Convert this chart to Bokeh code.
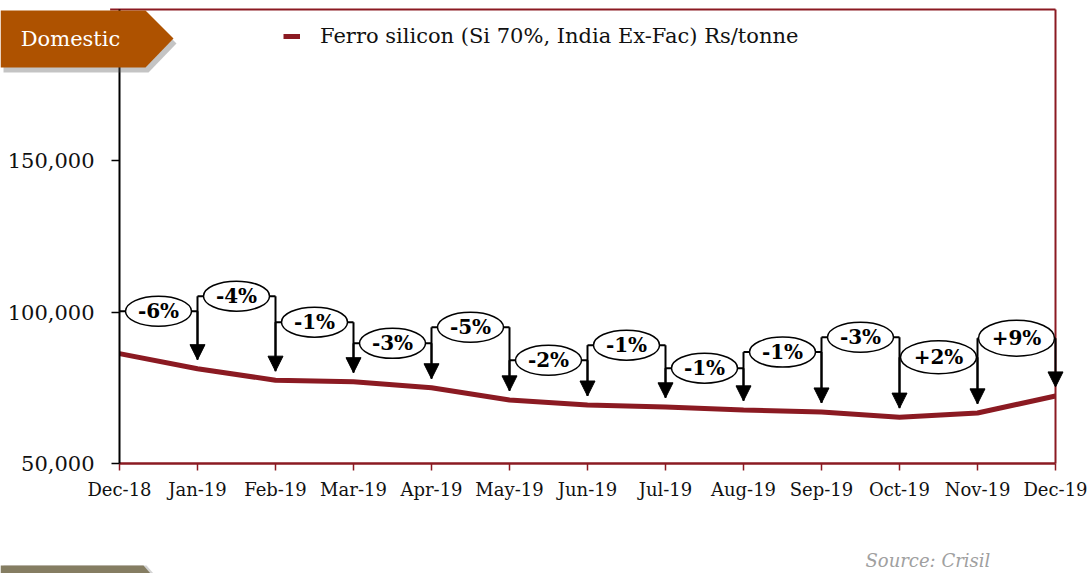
from bokeh.plotting import figure
from bokeh.models import (Range1d, FixedTicker, NumeralTickFormatter, Arrow, NormalHead,
                          PolyAnnotation, Label, Legend, LegendItem, ColumnDataSource)
from bokeh.core.properties import value
from bokeh.embed import file_html
from bokeh.resources import INLINE

# ---------------- data ----------------
months = ["Dec-18", "Jan-19", "Feb-19", "Mar-19", "Apr-19", "May-19", "Jun-19",
          "Jul-19", "Aug-19", "Sep-19", "Oct-19", "Nov-19", "Dec-19"]
prices = [86300, 81300, 77500, 77000, 75000, 71000, 69300,
          68700, 67700, 67000, 65300, 66700, 72300]
changes = ["-6%", "-4%", "-1%", "-3%", "-5%", "-2%", "-1%",
           "-1%", "-1%", "-3%", "+2%", "+9%"]
series_name = "Ferro silicon (Si 70%, India Ex-Fac) Rs/tonne"
y_ticks = [50000, 100000, 150000]
y_min, y_max = 50000, 200000

# ---------------- callout layout (positions / sizes) ----------------
callout_y = [100300, 105300, 96700, 89700, 95000, 84100, 89100,
             81500, 86800, 91700, 85100, 91400]
callout_w = [66, 66, 66, 66, 66, 66, 66, 66, 66, 66, 76, 76]
callout_h = [30, 30, 30, 30, 30, 30, 30, 30, 30, 30, 33, 36]
arrow_gap = 3000

RED = "#8B1A22"
SERIF = "DejaVu Serif"

# ---------------- canvas layout (pixels) ----------------
W, H = 1089, 573
plot_left, plot_right, plot_top, plot_bottom = 119, 1055, 9, 463
n_x = len(months) - 1
px_x = (plot_right - plot_left) / n_x
px_y = (plot_bottom - plot_top) / (y_max - y_min)
x_range = Range1d(-plot_left / px_x, n_x + (W - plot_right) / px_x)
y_range = Range1d(y_min - (H - plot_bottom) / px_y, y_max + plot_top / px_y)

x_idx = list(range(len(months)))

p = figure(width=W, height=H, x_range=x_range, y_range=y_range,
           output_backend="svg", toolbar_location=None,
           min_border=0, min_border_left=0, min_border_right=0,
           min_border_top=0, min_border_bottom=0)
p.grid.visible = False
p.outline_line_color = None
p.background_fill_color = "white"
p.border_fill_color = "white"

# x axis (fixed inside the canvas)
p.xaxis.fixed_location = y_min
p.xaxis.bounds = (0, n_x)
p.xaxis.ticker = FixedTicker(ticks=x_idx)
p.xaxis.major_label_overrides = {i: m for i, m in enumerate(months)}
p.xaxis.axis_line_color = RED
p.xaxis.axis_line_width = 2.5
p.xaxis.major_tick_line_color = RED
p.xaxis.major_tick_line_width = 1.5
p.xaxis.major_tick_out = 7
p.xaxis.major_tick_in = 0
p.xaxis.minor_tick_line_color = None
p.xaxis.major_label_standoff = 8
p.xaxis.major_label_text_font = SERIF
p.xaxis.major_label_text_font_size = "18px"
p.xaxis.major_label_text_color = "#111111"

# y axis (fixed inside the canvas)
p.yaxis.fixed_location = 0
p.yaxis.bounds = (y_min, y_max)
p.yaxis.ticker = FixedTicker(ticks=y_ticks)
p.yaxis.formatter = NumeralTickFormatter(format="0,0")
p.yaxis.axis_line_color = "black"
p.yaxis.axis_line_width = 2
p.yaxis.major_tick_line_color = "black"
p.yaxis.major_tick_line_width = 1.5
p.yaxis.major_tick_out = 8
p.yaxis.major_tick_in = 0
p.yaxis.minor_tick_line_color = None
p.yaxis.major_label_standoff = 17
p.yaxis.major_label_text_font = SERIF
p.yaxis.major_label_text_font_size = "21px"
p.yaxis.major_label_text_color = "#111111"

# top and right frame lines
p.segment(x0=[-0.12, n_x], y0=[y_max, y_min], x1=[n_x, n_x], y1=[y_max, y_max],
          line_color=RED, line_width=2)

# price line
line = p.line(x_idx, prices, line_color=RED, line_width=5)

# callouts
n = len(changes)
seg_src = ColumnDataSource(dict(
    x0=[i for i in range(n)], x1=[i + 1 for i in range(n)],
    y=callout_y))
p.segment(x0="x0", y0="y", x1="x1", y1="y", source=seg_src, line_color="black", line_width=2)

conn_src = ColumnDataSource(dict(
    x=[i for i in range(1, n)],
    y0=[callout_y[i] for i in range(1, n)],
    y1=[prices[i] + arrow_gap for i in range(1, n)]))
p.segment(x0="x", y0="y0", x1="x", y1="y1", source=conn_src, line_color="black", line_width=2)

arr_src = ColumnDataSource(dict(
    x=[i + 1 for i in range(n)],
    y0=callout_y,
    y1=[prices[i + 1] + arrow_gap for i in range(n)]))
p.add_layout(Arrow(end=NormalHead(size=15, fill_color="black", line_color="black", line_width=1),
                   x_start="x", y_start="y0", x_end="x", y_end="y1", source=arr_src,
                   line_color="black", line_width=2))

ell_src = ColumnDataSource(dict(x=[i + 0.5 for i in range(n)], y=callout_y,
                                w=callout_w, h=callout_h, t=changes))
p.ellipse(x="x", y="y", width="w", height="h", width_units="screen", height_units="screen",
          source=ell_src, fill_color="white", line_color="black", line_width=1.5)
p.text(x="x", y="y", text="t", source=ell_src, text_align="center", text_baseline="middle",
       text_font=value(SERIF), text_font_style="bold", text_font_size="20px", text_color="black")

# legend
legend = Legend(items=[LegendItem(label=series_name, renderers=[line])],
                location=(283, H - 48), orientation="vertical",
                padding=0, margin=0, spacing=0, border_line_color=None, background_fill_alpha=0,
                glyph_width=17, glyph_height=20, label_height=20, label_standoff=20,
                label_text_font=SERIF, label_text_font_size="21px", label_text_color="#111111")
p.add_layout(legend, "center")

# "Domestic" banner (screen units from canvas bottom-left)
bx = [0, 145, 173, 145, 0]
by = [H - 10, H - 10, H - 38, H - 67, H - 67]
p.add_layout(PolyAnnotation(xs=[v + 3 for v in bx], ys=[v - 5 for v in by],
                            xs_units="screen", ys_units="screen",
                            fill_color="#555555", fill_alpha=0.35, line_color=None))
p.add_layout(PolyAnnotation(xs=bx, ys=by, xs_units="screen", ys_units="screen",
                            fill_color="#AE5200", fill_alpha=1.0, line_color=None))
p.add_layout(Label(x=70, y=H - 38, x_units="screen", y_units="screen", text="Domestic",
                   text_align="center", text_baseline="middle", text_color="white",
                   text_font=SERIF, text_font_size="21px"))

# bottom banner
gx = [0, 143, 150, 0]
gy = [8, 8, 0, 0]
p.add_layout(PolyAnnotation(xs=[v + 3 for v in gx], ys=gy, xs_units="screen", ys_units="screen",
                            fill_color="#555555", fill_alpha=0.25, line_color=None))
p.add_layout(PolyAnnotation(xs=gx, ys=gy, xs_units="screen", ys_units="screen",
                            fill_color="#857D62", fill_alpha=1.0, line_color=None))

# source note
p.add_layout(Label(x=865, y=13, x_units="screen", y_units="screen", text="Source: Crisil",
                   text_align="left", text_baseline="middle", text_color="#A0A0A0",
                   text_font=SERIF, text_font_style="italic", text_font_size="18px"))

open("out.html", "w").write(file_html(p, INLINE))
